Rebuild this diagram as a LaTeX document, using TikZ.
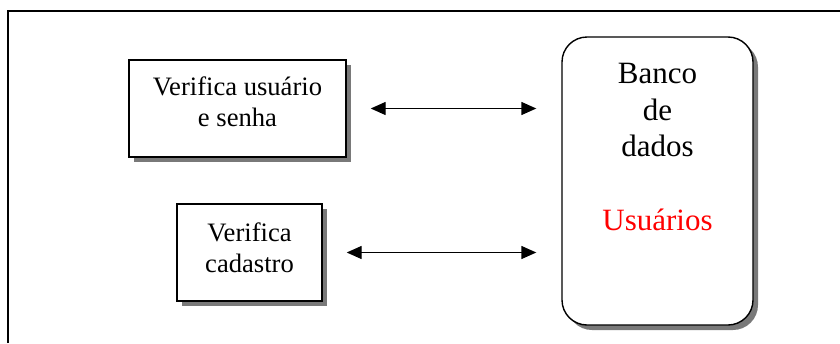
\documentclass[tikz,border=0pt]{standalone}
\usepackage{fontspec}
\setmainfont{Liberation Serif}
\usetikzlibrary{arrows.meta,shadows}
\begin{document}
\begin{tikzpicture}[x=1pt,y=-1pt,
  shadowed/.style={drop shadow={shadow xshift=5pt,shadow yshift=-5pt,fill=gray!95!black,opacity=1}},
  procbox/.style={draw,line width=1.4pt,fill=white,shadowed,inner sep=0pt,align=center,
    font=\fontsize{26.6}{31}\selectfont},
  dbbox/.style={draw,line width=1.4pt,fill=white,shadowed,rounded corners=25pt,inner sep=0pt,
    minimum width=191pt,minimum height=288pt},
  dbtext/.style={inner sep=0pt,anchor=base,font=\fontsize{31}{36}\selectfont},
  link/.style={line width=1.4pt,{Triangle[length=15pt,width=13pt]}-{Triangle[length=15pt,width=13pt]}}]
\useasboundingbox (0,0) rectangle (840,343);
\draw[line width=1.4pt] (8,343) -- (8,11) -- (840,11);
\node[procbox,minimum width=217pt,minimum height=97pt,text depth=14pt] (b1) at (237.5,108.5) {Verifica usuário\\e senha};
\node[procbox,minimum width=145pt,minimum height=97pt,text depth=10pt] (b2) at (249.5,252.5) {Verifica\\cadastro};
\node[dbbox] (db) at (657.5,181) {};
\node[dbtext] (t1) at (657.5,83.3) {Banco};
\node[dbtext] (t2) at (657.5,120) {de};
\node[dbtext] (t3) at (657.5,156.7) {dados};
\node[dbtext,text=red] (t4) at (657.5,230) {Usuários};
\draw[link,shorten <=24pt,shorten >=25pt] (b1.east) -- (b1.east -| db.west);
\draw[link,shorten <=24pt,shorten >=25pt] (b2.east) -- (b2.east -| db.west);
\end{tikzpicture}
\end{document}
